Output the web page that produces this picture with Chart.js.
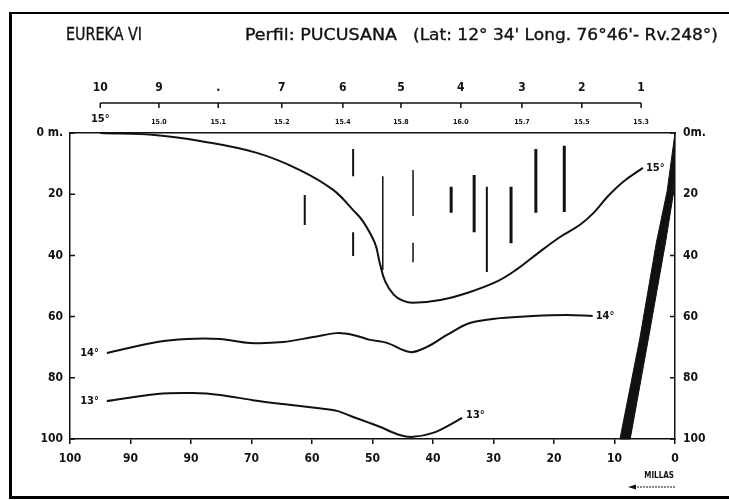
<!DOCTYPE html>
<html>
<head>
<meta charset="utf-8">
<script src="https://cdn.jsdelivr.net/npm/chart.js@4.4.0/dist/chart.umd.min.js"></script>
<style>
  html, body { margin: 0; padding: 0; background: #fff; }
  #wrap { position: relative; width: 729px; height: 500px; overflow: hidden; }
  #frame { position: absolute; left: 9px; top: 12px; width: 730px; height: 482px;
           border-left: 3px solid #000; border-top: 2px solid #000; border-bottom: 3px solid #000; }
  canvas, svg { position: absolute; left: 0; top: 0; }
</style>
</head>
<body>
<div id="wrap">
  <div id="frame"></div>
  <canvas id="chart" width="729" height="500"></canvas>
  <svg width="729" height="60" font-family="'DejaVu Sans Condensed', 'DejaVu Sans', sans-serif" fill="#111" stroke="#111" stroke-width="0.3">
    <text x="66" y="40" font-size="17" textLength="76" lengthAdjust="spacingAndGlyphs">EUREKA VI</text>
    <text x="245" y="40" font-size="15" textLength="152" lengthAdjust="spacingAndGlyphs">Perfil: PUCUSANA</text>
    <text x="413" y="40" font-size="15" textLength="305" lengthAdjust="spacingAndGlyphs">(Lat: 12° 34' Long. 76°46'- Rv.248°)</text>
  </svg>
</div>
<script>
// stations along the profile (distance in miles) and surface temperatures
const stationMiles = [95.0, 85.3, 75.5, 65.0, 54.9, 45.3, 35.4, 25.3, 15.4, 5.6];
const stationLabels = ['10', '9', '.', '7', '6', '5', '4', '3', '2', '1'];
const surfaceTemps = ['15°', '15.0', '15.1', '15.2', '15.4', '15.8', '16.0', '15.7', '15.5', '15.3'];

// bottom axis (miles) - the original prints "90" twice
const mileTicks = [100, 90, 80, 70, 60, 50, 40, 30, 20, 10, 0];
const mileLabels = ['100', '90', '90', '70', '60', '50', '40', '30', '20', '10', '0'];

// depth axes
const depthTicks = [0, 20, 40, 60, 80, 100];
const depthLabelsLeft = ['0 m.', '20', '40', '60', '80', '100'];
const depthLabelsRight = ['0m.', '20', '40', '60', '80', '100'];

// isotherms
const iso15Miles  = [95, 85.6, 78.5, 69.1, 62.0, 56.5, 53.2, 51.6, 49.6, 48.8, 47.9, 46.5, 45.0, 43.3, 38.8, 34.4, 29.4, 26.1, 22.8, 19.0, 15.7, 13.5, 11.2, 8.6, 5.3];
const iso15Depths = [0, 0.7, 2.6, 6.5, 12.1, 18.6, 25.2, 28.8, 36.0, 42.5, 48.5, 52.8, 54.8, 55.5, 54.6, 52.3, 48.5, 44.5, 39.5, 34.0, 30.0, 26.2, 20.9, 16.0, 11.4];

const iso14Miles  = [93.9, 85.6, 80.7, 75.2, 70.2, 64.8, 59.8, 55.9, 53.2, 50.4, 47.6, 43.8, 41.0, 37.7, 33.9, 28.9, 23.5, 17.9, 13.6];
const iso14Depths = [71.9, 68.3, 67.3, 67.3, 68.6, 68.3, 66.7, 65.4, 66.0, 67.6, 68.6, 71.6, 69.9, 66.0, 62.1, 60.5, 59.8, 59.5, 59.8];

const iso13Miles  = [93.9, 85.6, 79.7, 75.2, 69.8, 64.8, 59.2, 55.9, 53.2, 50.4, 48.8, 45.5, 43.3, 40.0, 36.7, 35.2];
const iso13Depths = [87.6, 85.3, 85.0, 85.6, 87.3, 88.6, 89.9, 90.8, 92.8, 94.8, 96.0, 98.7, 99.3, 98.0, 94.8, 93.1];

// vertical sampling bars (mile, top depth, bottom depth)
const barMiles   = [61.2, 53.2, 53.2, 48.3, 43.3, 43.3, 37.0, 33.2, 31.1, 27.1, 23.0, 18.3];
const barTops    = [20.3, 5.2, 32.4, 14.1, 12.1, 35.9, 17.6, 13.7, 17.6, 17.6, 5.2, 4.2];
const barBottoms = [30.1, 14.1, 40.2, 44.8, 27.1, 42.2, 26.1, 32.4, 45.4, 36.0, 26.1, 25.8];

// sea floor slope
const floorMiles  = [0, 1.3, 3.1, 5.8, 9.1, 7.4, 4.2, 1.5, 0.2, 0];
const floorDepths = [0, 19, 36, 67, 100, 100, 65, 35, 19, 0];

const ink = '#111';
const condensed = "'DejaVu Sans Condensed', 'DejaVu Sans', sans-serif";
const barWidths = [2, 2, 2, 1.5, 1.5, 1.5, 3, 3, 2, 3, 3, 3];

function pair(xs, ys) {
  return xs.map((x, i) => ({ x: x, y: ys[i] }));
}

const datasets = [
  { label: '15°', data: pair(iso15Miles, iso15Depths), borderWidth: 2, tension: 0.4 },
  { label: '14°', data: pair(iso14Miles, iso14Depths), borderWidth: 2, tension: 0.35 },
  { label: '13°', data: pair(iso13Miles, iso13Depths), borderWidth: 2, tension: 0.35 },
  { label: 'fondo', data: pair(floorMiles, floorDepths), borderWidth: 1, tension: 0,
    fill: 'shape', backgroundColor: ink, clip: false }
];
barMiles.forEach((m, i) => {
  datasets.push({
    label: 'bar' + i,
    data: [{ x: m, y: barTops[i] }, { x: m, y: barBottoms[i] }],
    borderWidth: barWidths[i],
    tension: 0
  });
});
datasets.forEach(d => {
  d.showLine = true;
  d.pointRadius = 0;
  d.borderColor = ink;
  if (!d.fill) d.fill = false;
});

// labels at the ends of the isotherms: [dataset index, which end, text, dx, dy]
const isoTags = [
  [0, 'end', '15°', 3, 0],
  [1, 'end', '14°', 3, 0],
  [1, 'start', '14°', -8, 0],
  [2, 'end', '13°', 4, -3],
  [2, 'start', '13°', -8, 0]
];

const extras = {
  id: 'extras',
  afterDraw(chart) {
    const { ctx, chartArea, scales } = chart;
    const y = scales.y, xs = scales.xs;
    ctx.save();
    ctx.strokeStyle = ink;
    ctx.fillStyle = ink;
    ctx.lineWidth = 1.5;

    // inward ticks on both depth axes
    ctx.beginPath();
    depthTicks.forEach(v => {
      const py = y.getPixelForValue(v);
      ctx.moveTo(chartArea.left, py); ctx.lineTo(chartArea.left + 5, py);
      ctx.moveTo(chartArea.right, py); ctx.lineTo(chartArea.right - 5, py);
    });
    ctx.stroke();

    // station line with downward ticks
    const sy = xs.bottom - 9;
    const x0 = xs.getPixelForValue(stationMiles[0]);
    const x1 = xs.getPixelForValue(stationMiles[stationMiles.length - 1]);
    ctx.beginPath();
    ctx.moveTo(x0, sy); ctx.lineTo(x1, sy);
    stationMiles.forEach(m => {
      const px = xs.getPixelForValue(m);
      ctx.moveTo(px, sy); ctx.lineTo(px, sy + 5);
    });
    ctx.stroke();

    // isotherm tags
    ctx.font = 'bold 11px ' + condensed;
    ctx.textBaseline = 'middle';
    isoTags.forEach(([di, end, text, dx, dy]) => {
      const pts = chart.getDatasetMeta(di).data;
      const p = end === 'end' ? pts[pts.length - 1] : pts[0];
      ctx.textAlign = dx < 0 ? 'right' : 'left';
      ctx.fillText(text, p.x + dx, p.y + dy);
    });

    // "MILLAS" with arrow pointing left
    const xr = chartArea.right;
    ctx.font = 'bold 8px ' + condensed;
    ctx.textAlign = 'right';
    ctx.fillText('MILLAS', xr - 1, 476);
    ctx.lineWidth = 1;
    ctx.setLineDash([2, 1]);
    ctx.beginPath();
    ctx.moveTo(xr, 487); ctx.lineTo(xr - 42, 487);
    ctx.stroke();
    ctx.setLineDash([]);
    ctx.beginPath();
    ctx.moveTo(xr - 47, 487); ctx.lineTo(xr - 39, 484.5); ctx.lineTo(xr - 39, 489.5);
    ctx.closePath();
    ctx.fill();
    ctx.restore();
  }
};

const labelFont = { family: condensed, size: 12, weight: 'bold' };

function topScale(weight, height, labels, padding, font) {
  return {
    type: 'linear', position: 'top', min: 0, max: 100, reverse: true, weight: weight,
    afterBuildTicks: s => { s.ticks = stationMiles.map(v => ({ value: v })); },
    afterFit: s => { s.height = height; },
    ticks: { autoSkip: false, maxRotation: 0, padding: padding, color: ink, font: font,
             callback: (v, i) => labels[i] },
    grid: { display: false, drawTicks: false },
    border: { display: weight === 1, color: ink, width: 1.5 }
  };
}

function depthScale(position, width, labels, padding) {
  return {
    type: 'linear', position: position, min: 0, max: 100, reverse: true,
    afterFit: s => { s.width = width; },
    ticks: { stepSize: 20, padding: padding, color: ink, font: labelFont,
             callback: v => labels[depthTicks.indexOf(v)] },
    grid: { display: false, drawTicks: false },
    border: { color: ink, width: 1.5 }
  };
}

new Chart(document.getElementById('chart'), {
  type: 'scatter',
  data: { datasets: datasets },
  options: {
    responsive: false,
    animation: false,
    devicePixelRatio: 1,
    layout: { padding: 0 },
    plugins: { legend: { display: false }, tooltip: { enabled: false } },
    scales: {
      x: {
        type: 'linear', position: 'bottom', min: 0, max: 100, reverse: true,
        afterFit: s => { s.height = 61; },
        ticks: { stepSize: 10, autoSkip: false, maxRotation: 0, padding: 8, color: ink, font: labelFont,
                 callback: v => mileLabels[mileTicks.indexOf(v)] },
        grid: { drawOnChartArea: false, tickLength: 5, color: ink, lineWidth: 1.5 },
        border: { color: ink, width: 1.5 }
      },
      xt: topScale(1, 21, surfaceTemps, 7,
        c => c.index === 0 ? { family: condensed, size: 11, weight: 'bold' }
                           : { family: condensed, size: 7, weight: 'bold' }),
      xs: topScale(2, 112, stationLabels, 17, labelFont),
      y: depthScale('left', 70, depthLabelsLeft, 7),
      y2: depthScale('right', 54, depthLabelsRight, 8)
    }
  },
  plugins: [extras]
});
</script>
</body>
</html>
